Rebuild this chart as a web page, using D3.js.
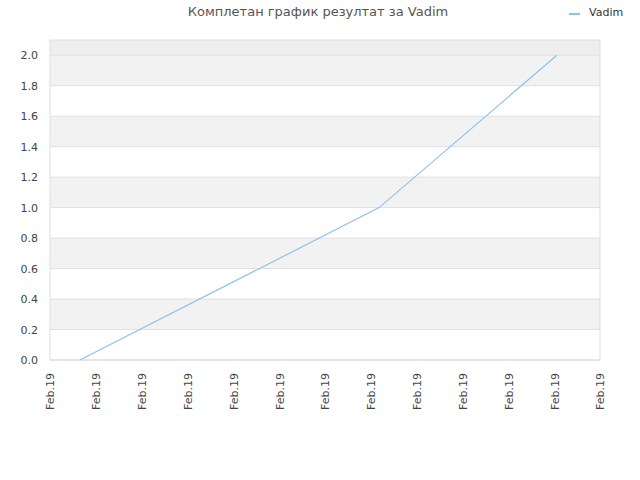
<!DOCTYPE html>
<head>
  <meta charset="utf-8">
  <title>Комплетан график резултат за Vadim</title>
  <style>
    body { margin: 0; background: #fff; }
    text { font-family: "DejaVu Sans", sans-serif; }
  </style>
</head>
<body>
<script src="https://cdn.jsdelivr.net/npm/d3@7"></script>
<script>
  // chart data
  var seriesName = "Vadim";
  var xTickLabels = ["Feb.19", "Feb.19", "Feb.19", "Feb.19", "Feb.19", "Feb.19", "Feb.19",
                     "Feb.19", "Feb.19", "Feb.19", "Feb.19", "Feb.19", "Feb.19"];
  var yTicks = [0.0, 0.2, 0.4, 0.6, 0.8, 1.0, 1.2, 1.4, 1.6, 1.8, 2.0];
  // position along the date axis (in tick steps) and result value
  var pointX = [0.65, 7.18, 11.06];
  var pointY = [0, 1, 2];

  var margin = {top: 40, right: 40, bottom: 120, left: 50};
  var width = 640 - margin.left - margin.right;
  var height = 480 - margin.top - margin.bottom;

  var svg = d3.select("body").append("svg")
    .attr("width", 640)
    .attr("height", 480);

  var g = svg.append("g")
    .attr("transform", "translate(" + margin.left + "," + margin.top + ")");

  var x = d3.scaleLinear().domain([0, xTickLabels.length - 1]).range([0, width]);
  var y = d3.scaleLinear().domain([0, 2.1]).range([height, 0]);

  // alternating bands
  for (var i = 0; i < yTicks.length - 1; i++) {
    if (i % 2 == 1) {
      g.append("rect")
        .attr("x", 0)
        .attr("y", y(yTicks[i + 1]))
        .attr("width", width)
        .attr("height", y(yTicks[i]) - y(yTicks[i + 1]))
        .style("fill", "#f2f2f2");
    }
  }
  g.append("rect")
    .attr("x", 0)
    .attr("y", 0)
    .attr("width", width)
    .attr("height", y(2.0))
    .style("fill", "#eeeeee");

  // horizontal grid
  g.append("g")
    .selectAll("line")
    .data(yTicks)
    .enter()
    .append("line")
    .attr("x1", 0)
    .attr("x2", width)
    .attr("y1", d => y(d))
    .attr("y2", d => y(d))
    .style("stroke", "#e0e0e0")
    .style("stroke-width", 1);

  // frame
  g.append("rect")
    .attr("x", 0)
    .attr("y", 0)
    .attr("width", width)
    .attr("height", height)
    .style("fill", "none")
    .style("stroke", "#dddddd");

  // y axis
  var yAxis = g.append("g")
    .call(d3.axisLeft(y).tickValues(yTicks).tickFormat(d3.format(".1f")).tickSize(0).tickPadding(12));
  yAxis.select(".domain").remove();
  yAxis.selectAll("text")
    .style("font-size", "11px")
    .style("fill", "#444");

  // x axis
  var xAxis = g.append("g")
    .attr("transform", "translate(0," + height + ")")
    .call(d3.axisBottom(x).ticks(xTickLabels.length).tickValues(d3.range(xTickLabels.length))
      .tickFormat(d => xTickLabels[d]).tickSize(0));
  xAxis.select(".domain").remove();
  xAxis.selectAll("text")
    .attr("transform", "rotate(-90)")
    .attr("x", -13)
    .attr("y", 0)
    .attr("dy", "0.35em")
    .style("text-anchor", "end")
    .style("font-size", "11px")
    .style("fill", "#444");

  // series line
  var line = d3.line()
    .x((d, i) => x(pointX[i]))
    .y((d, i) => y(pointY[i]));

  g.append("path")
    .attr("d", line(pointY))
    .style("fill", "none")
    .style("stroke", "#8ec2f2")
    .style("stroke-width", 1.2);

  // title
  svg.append("text")
    .attr("x", 318)
    .attr("y", 16)
    .attr("text-anchor", "middle")
    .style("font-size", "13px")
    .style("fill", "#555")
    .text("Комплетан график резултат за " + seriesName);

  // legend
  svg.append("line")
    .attr("x1", 569)
    .attr("x2", 580)
    .attr("y1", 14)
    .attr("y2", 14)
    .style("stroke", "#8ec2f2")
    .style("stroke-width", 2);

  svg.append("text")
    .attr("x", 589)
    .attr("y", 16)
    .style("font-size", "11px")
    .style("fill", "#333")
    .text(seriesName);
</script>
</body>
